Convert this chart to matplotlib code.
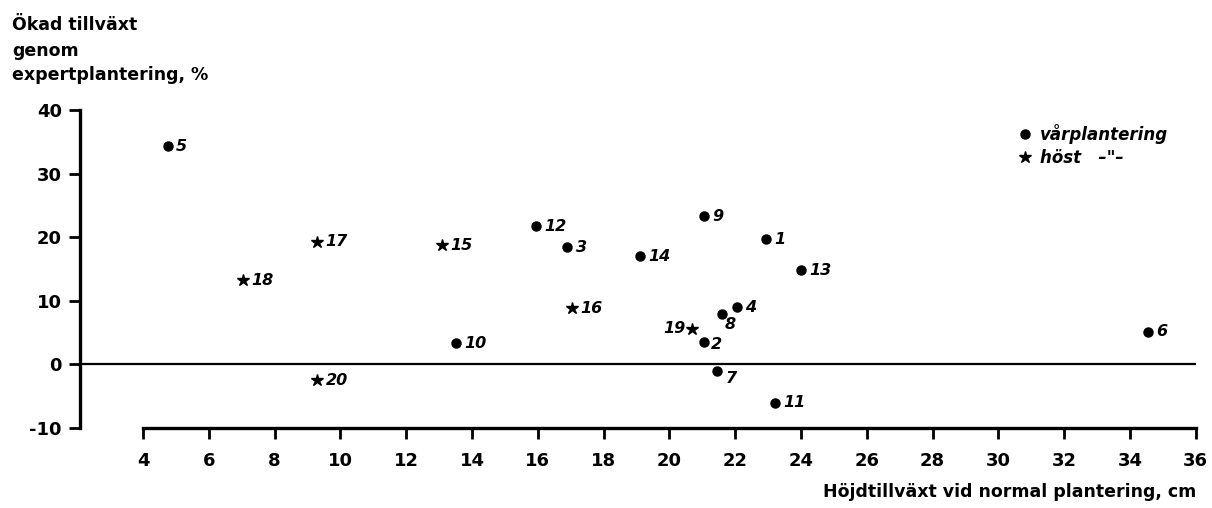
import numpy as np
import matplotlib
matplotlib.use('Agg')
import matplotlib.pyplot as plt

plt.rcParams['font.family'] = ['DejaVu Sans']
plt.rcParams['font.weight'] = 'bold'
plt.rcParams['axes.unicode_minus'] = False

# spring planting (dots)
spring_id = ['1', '2', '3', '4', '5', '6', '7', '8', '9', '10', '11', '12', '13', '14']
spring_x = [22.95, 21.05, 16.9, 22.05, 4.75, 34.55, 21.45, 21.6, 21.05, 13.5, 23.2, 15.95, 24.0, 19.1]
spring_y = [19.7, 3.5, 18.4, 9.0, 34.3, 5.1, -1.1, 8.0, 23.3, 3.3, -6.0, 21.7, 14.8, 17.0]

# autumn planting (stars)
autumn_id = ['15', '16', '17', '18', '19', '20']
autumn_x = [13.1, 17.05, 9.3, 7.05, 20.7, 9.3]
autumn_y = [18.7, 8.8, 19.3, 13.2, 5.6, -2.5]

x_ticks = np.arange(4, 37, 2)
y_ticks = [-10, 0, 10, 20, 30, 40]

# label offsets in points (dx, dy, ha)
offsets = {'19': (-5, 0, 'right'), '8': (2, -8, 'left'), '7': (6, -5, 'left'),
           '2': (5, -2, 'left')}

fig = plt.figure(figsize=(12.12, 5.08), dpi=100)
ax = fig.add_axes([80/1212, 80/508, 1118/1212, 318/508])
ax.set_xlim(2.085, 36.07)
ax.set_ylim(-10, 40)

for s in ['top', 'right']:
    ax.spines[s].set_visible(False)
ax.spines['left'].set_linewidth(2.4)
ax.spines['bottom'].set_linewidth(2.4)
ax.spines['bottom'].set_bounds(4, 36)

ax.set_xticks(x_ticks)
ax.set_yticks(y_ticks)
ax.tick_params(direction='out', length=8, width=2, labelsize=13, pad=5)
ax.tick_params(axis='x', pad=9)
for lab in ax.get_xticklabels() + ax.get_yticklabels():
    lab.set_fontweight('bold')

ax.hlines(0, 2.085, 36, color='black', lw=1.6)

ax.plot(spring_x, spring_y, 'o', color='black', ms=6.5, ls='none', label='vårplantering')
ax.plot(autumn_x, autumn_y, '*', color='black', ms=9, ls='none', label='höst   –"–')

for ids, xs, ys in [(spring_id, spring_x, spring_y), (autumn_id, autumn_x, autumn_y)]:
    for i, x, y in zip(ids, xs, ys):
        dx, dy, ha = offsets.get(i, (6, 0, 'left'))
        ax.annotate(i, (x, y), xytext=(dx, dy), textcoords='offset points',
                    ha=ha, va='center', fontsize=11.5, fontweight='bold', style='italic')

leg = ax.legend(loc='upper left', bbox_to_anchor=(1010/1212, 1 - 116/508),
                bbox_transform=fig.transFigure, frameon=False, handlelength=0.8,
                handletextpad=0.5, borderpad=0, labelspacing=0.3,
                prop={'size': 12, 'weight': 'bold', 'style': 'italic'})

fig.text(12/1212, 1 - 25/508, 'Ökad tillväxt', fontsize=12.5, fontweight='bold', va='center')
fig.text(12/1212, 1 - 51/508, 'genom', fontsize=12.5, fontweight='bold', va='center')
fig.text(12/1212, 1 - 75/508, 'expertplantering, %', fontsize=12.5, fontweight='bold', va='center')
fig.text(1196/1212, 1 - 492/508, 'Höjdtillväxt vid normal plantering, cm',
         fontsize=12.5, fontweight='bold', ha='right', va='center')

fig.savefig('out.png', dpi=100)
